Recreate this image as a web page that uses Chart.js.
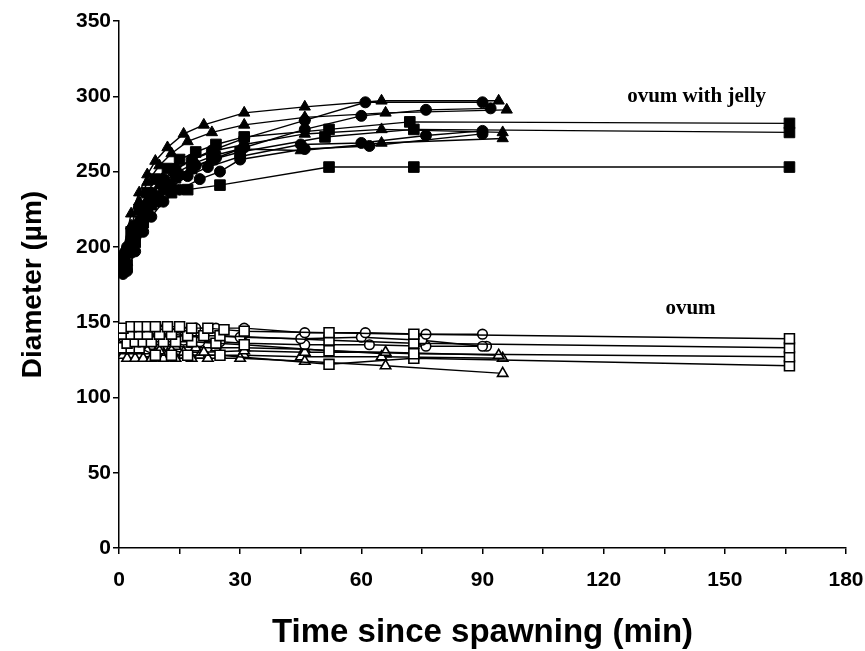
<!DOCTYPE html>
<html>
<head>
<meta charset="utf-8">
<script src="https://cdn.jsdelivr.net/npm/chart.js@4.4.1/dist/chart.umd.min.js"></script>
<style>
  html, body { margin: 0; padding: 0; background: #fff; }
  #chart { display: block; }
</style>
</head>
<body>
<canvas id="chart" width="865" height="651"></canvas>
<script>
// ovum with jelly - filled triangles
var jt1Time = [1, 3, 5, 7, 9, 12, 16, 21, 31, 46, 65, 94];
var jt1Diam = [197, 222, 236, 248, 257, 266, 275, 281, 289, 293, 297, 297];
var jt2Time = [1, 3, 5, 7, 10, 13, 17, 23, 31, 46, 66, 96];
var jt2Diam = [192, 214, 230, 243, 254, 262, 270, 276, 281, 286, 289, 291];
var jt3Time = [2, 4, 6, 8, 11, 14, 18, 24, 31, 46, 65, 95];
var jt3Diam = [190, 208, 222, 234, 244, 251, 258, 264, 268, 275, 278, 276];
var jt4Time = [1, 3, 5, 7, 10, 14, 19, 24, 30, 45, 65, 95];
var jt4Diam = [188, 205, 219, 231, 241, 249, 256, 261, 265, 264, 269, 272];

// ovum with jelly - filled circles
var jc1Time = [1, 2, 4, 6, 8, 11, 14, 18, 23, 31, 46, 61, 90];
var jc1Diam = [186, 200, 214, 226, 236, 245, 252, 258, 264, 272, 284, 296, 296];
var jc2Time = [1, 3, 5, 7, 9, 12, 15, 19, 24, 31, 46, 60, 76, 92];
var jc2Diam = [183, 198, 212, 224, 234, 242, 248, 254, 259, 266, 278, 287, 291, 292];
var jc3Time = [1, 3, 5, 7, 10, 13, 17, 22, 30, 45, 60, 76, 90];
var jc3Diam = [182, 196, 210, 221, 232, 240, 247, 253, 260, 268, 269, 274, 277];
var jc4Time = [2, 4, 6, 8, 11, 15, 20, 25, 30, 46, 62, 90];
var jc4Diam = [184, 197, 210, 220, 230, 238, 245, 250, 258, 265, 267, 275];

// ovum with jelly - filled squares
var js1Time = [1, 3, 5, 7, 9, 12, 15, 19, 24, 31, 52, 72, 166];
var js1Diam = [192, 210, 225, 236, 245, 252, 258, 263, 268, 273, 278, 283, 282];
var js2Time = [2, 4, 6, 8, 11, 14, 18, 23, 30, 51, 73, 166];
var js2Diam = [188, 203, 216, 228, 238, 246, 252, 258, 263, 273, 278, 276];
var js3Time = [1, 3, 5, 7, 9, 13, 17, 25, 52, 73, 166];
var js3Diam = [190, 203, 213, 222, 230, 236, 238, 241, 253, 253, 253];

// ovum - open squares
var os1Time = [1, 3, 5, 7, 9, 12, 15, 18, 22, 26, 31, 52, 73, 166];
var os1Diam = [146, 147, 147, 147, 147, 147, 147, 146, 146, 145, 144, 143, 142, 139];
var os2Time = [1, 3, 5, 7, 10, 13, 17, 21, 25, 52, 73, 166];
var os2Diam = [142, 142, 142, 142, 142, 142, 141, 141, 141, 138, 136, 133];
var os3Time = [2, 4, 6, 8, 11, 14, 18, 24, 31, 52, 73, 166];
var os3Diam = [136, 137, 137, 137, 137, 137, 137, 136, 135, 131, 129, 127];
var os4Time = [1, 3, 5, 9, 13, 17, 25, 52, 73, 166];
var os4Diam = [133, 133, 133, 128, 128, 128, 128, 122, 126, 121];

// ovum - open circles
var oc1Time = [2, 4, 6, 8, 11, 15, 19, 24, 31, 46, 61, 76, 90];
var oc1Diam = [145, 145, 145, 145, 145, 146, 146, 146, 146, 143, 143, 142, 142];
var oc2Time = [1, 3, 5, 7, 10, 14, 18, 23, 30, 45, 60, 75, 90];
var oc2Diam = [140, 141, 141, 141, 142, 142, 141, 141, 140, 139, 140, 138, 134];
var oc3Time = [2, 4, 6, 9, 12, 16, 20, 25, 31, 46, 62, 76, 91];
var oc3Diam = [137, 138, 138, 138, 138, 138, 137, 137, 136, 135, 135, 134, 134];

// ovum - open triangles
var ot1Time = [1, 3, 5, 7, 10, 13, 16, 21, 31, 46, 66, 94];
var ot1Diam = [131, 131, 131, 131, 131, 131, 130, 130, 131, 130, 130, 128];
var ot2Time = [2, 4, 6, 8, 11, 14, 18, 22, 30, 46, 66, 95];
var ot2Diam = [126, 126, 126, 126, 126, 126, 126, 126, 126, 124, 121, 116];
var ot3Time = [1, 3, 5, 7, 9, 12, 16, 20, 25, 31, 45, 65, 95];
var ot3Diam = [128, 128, 128, 129, 129, 129, 128, 128, 128, 128, 127, 127, 126];
var ot4Time = [2, 4, 6, 8, 10, 14, 19, 24, 31, 46, 66];
var ot4Diam = [133, 133, 133, 134, 134, 134, 133, 133, 133, 132, 129];

var yTicks = [0, 50, 100, 150, 200, 250, 300, 350];
var xTicks = [0, 30, 60, 90, 120, 150, 180];

function toPoints(times, diams) {
  var pts = [];
  for (var i = 0; i < times.length; i++) {
    pts.push({ x: times[i], y: diams[i] });
  }
  return pts;
}

function makeSet(times, diams, shape, filled) {
  var r = shape === "rect" ? 7.5 : (shape === "triangle" ? 6.5 : 5.5);
  if (!filled) r = shape === "rect" ? 7 : (shape === "triangle" ? 6 : 4.8);
  return {
    data: toPoints(times, diams),
    showLine: true,
    borderColor: "#000",
    borderWidth: 1.4,
    tension: 0,
    pointStyle: shape,
    pointRadius: r,
    pointBorderColor: "#000",
    pointBorderWidth: filled ? 1 : 1.6,
    pointBackgroundColor: filled ? "#000" : "#fff",
  };
}

var datasets = [
  makeSet(os1Time, os1Diam, "rect", false),
  makeSet(os2Time, os2Diam, "rect", false),
  makeSet(os3Time, os3Diam, "rect", false),
  makeSet(os4Time, os4Diam, "rect", false),
  makeSet(oc1Time, oc1Diam, "circle", false),
  makeSet(oc2Time, oc2Diam, "circle", false),
  makeSet(oc3Time, oc3Diam, "circle", false),
  makeSet(ot1Time, ot1Diam, "triangle", false),
  makeSet(ot2Time, ot2Diam, "triangle", false),
  makeSet(ot3Time, ot3Diam, "triangle", false),
  makeSet(ot4Time, ot4Diam, "triangle", false),
  makeSet(js1Time, js1Diam, "rect", true),
  makeSet(js2Time, js2Diam, "rect", true),
  makeSet(js3Time, js3Diam, "rect", true),
  makeSet(jc1Time, jc1Diam, "circle", true),
  makeSet(jc2Time, jc2Diam, "circle", true),
  makeSet(jc3Time, jc3Diam, "circle", true),
  makeSet(jc4Time, jc4Diam, "circle", true),
  makeSet(jt1Time, jt1Diam, "triangle", true),
  makeSet(jt2Time, jt2Diam, "triangle", true),
  makeSet(jt3Time, jt3Diam, "triangle", true),
  makeSet(jt4Time, jt4Diam, "triangle", true),
];

// group labels placed in data units
var groupLabels = [
  { text: "ovum with jelly", x: 143, y: 300 },
  { text: "ovum", x: 141.5, y: 159 },
];

var labelPlugin = {
  id: "groupLabels",
  afterDatasetsDraw: function(chart) {
    var ctx = chart.ctx;
    ctx.save();
    ctx.fillStyle = "#000";
    ctx.font = "bold 21px 'Liberation Serif', 'Times New Roman', serif";
    ctx.textAlign = "center";
    ctx.textBaseline = "middle";
    groupLabels.forEach(function(l) {
      ctx.fillText(l.text, chart.scales.x.getPixelForValue(l.x), chart.scales.y.getPixelForValue(l.y));
    });
    ctx.restore();
  },
};

var tickFont = { family: "'Liberation Sans', Arial, sans-serif", size: 21, weight: "bold" };

new Chart(document.getElementById("chart"), {
  type: "scatter",
  data: { datasets: datasets },
  plugins: [labelPlugin],
  options: {
    responsive: false,
    animation: false,
    devicePixelRatio: 1,
    layout: { padding: { top: 21, right: 19, left: 0, bottom: 0 } },
    plugins: { legend: { display: false }, tooltip: { enabled: false } },
    scales: {
      x: {
        type: "linear",
        min: 0,
        max: 180,
        afterFit: function(scale) {
          scale.height = 103;
          scale.paddingLeft = 0;
          scale.paddingRight = 0;
        },
        border: { color: "#000", width: 1.5 },
        grid: { drawOnChartArea: false, drawTicks: true, tickLength: 6, color: "#000", lineWidth: 1.5 },
        ticks: {
          stepSize: 15,
          color: "#000",
          font: tickFont,
          padding: 14,
          maxRotation: 0,
          autoSkip: false,
          callback: function(v) { return xTicks.indexOf(v) >= 0 ? v : ""; },
        },
        title: {
          display: true,
          text: "Time since spawning (min)",
          color: "#000",
          font: { family: "'Liberation Sans', Arial, sans-serif", size: 33, weight: "bold" },
          padding: { top: 14, bottom: -2 },
        },
      },
      y: {
        type: "linear",
        min: 0,
        max: 350,
        afterFit: function(scale) { scale.width = 119; },
        border: { color: "#000", width: 1.5 },
        grid: { drawOnChartArea: false, drawTicks: true, tickLength: 6, color: "#000", lineWidth: 1.5 },
        ticks: {
          stepSize: 50,
          color: "#000",
          font: tickFont,
          padding: 2,
          callback: function(v) { return yTicks.indexOf(v) >= 0 ? v : ""; },
        },
        title: {
          display: true,
          text: "Diameter (µm)",
          color: "#000",
          font: { family: "'Liberation Sans', Arial, sans-serif", size: 28, weight: "bold" },
          padding: { top: 16, bottom: 0 },
        },
      },
    },
  },
});
</script>
</body>
</html>
